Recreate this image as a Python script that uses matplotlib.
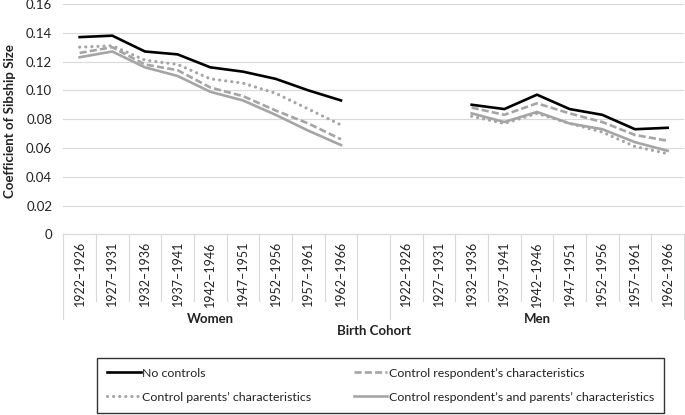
import matplotlib
matplotlib.use('Agg')
import matplotlib.pyplot as plt
from matplotlib.transforms import blended_transform_factory
from matplotlib.lines import Line2D
import numpy as np

plt.rcParams['font.family'] = ['Lato', 'DejaVu Sans']

cohorts = ['1922–1926', '1927–1931', '1932–1936', '1937–1941', '1942–1946',
           '1947–1951', '1952–1956', '1957–1961', '1962–1966']
groups = ['Women', 'Men']
series_names = ['No controls', 'Control parents’ characteristics',
                'Control respondent’s characteristics',
                'Control respondent’s and parents’ characteristics']

women_no_controls = [0.137, 0.138, 0.127, 0.125, 0.116, 0.113, 0.108, 0.100, 0.093]
women_parents = [0.130, 0.131, 0.121, 0.118, 0.108, 0.105, 0.098, 0.087, 0.076]
women_respondent = [0.126, 0.130, 0.118, 0.114, 0.102, 0.096, 0.086, 0.077, 0.066]
women_both = [0.123, 0.127, 0.116, 0.110, 0.099, 0.093, 0.083, 0.072, 0.062]

nan = np.nan
men_no_controls = [nan, nan, 0.090, 0.087, 0.097, 0.087, 0.083, 0.073, 0.074]
men_parents = [nan, nan, 0.082, 0.077, 0.084, 0.077, 0.071, 0.061, 0.056]
men_respondent = [nan, nan, 0.088, 0.083, 0.091, 0.084, 0.078, 0.069, 0.065]
men_both = [nan, nan, 0.084, 0.078, 0.085, 0.077, 0.073, 0.064, 0.058]

W, H = 685, 415
fig = plt.figure(figsize=(W / 100, H / 100), dpi=100)
L, R, T, B = 63.3, 684.0, 4.0, 234.3
ax = fig.add_axes([L / W, 1 - B / H, (R - L) / W, (B - T) / H])

n = len(cohorts)
x_w = np.arange(n)
x_m = np.arange(n) + n + 1
ncat = 2 * n + 1

gray = '#a5a5a5'
lw = 1.9
styles = [
    dict(color='black', lw=lw, ls='-'),
    dict(color=gray, lw=2.3, ls=(0, (0.01, 1.9)), dash_capstyle='round'),
    dict(color=gray, lw=lw, ls=(0, (2.7, 1.2))),
    dict(color=gray, lw=lw, ls='-'),
]
women = [women_no_controls, women_parents, women_respondent, women_both]
men = [men_no_controls, men_parents, men_respondent, men_both]
order_draw = [3, 2, 1, 0]
for i in order_draw:
    ax.plot(x_w, women[i], zorder=3 + (3 - i), **styles[i])
    ax.plot(x_m, men[i], zorder=3 + (3 - i), **styles[i])

ax.set_xlim(-0.5, ncat - 0.5)
ax.set_ylim(0, 0.16)
yt = np.arange(0, 0.161, 0.02)
ax.set_yticks(yt)
ax.set_yticklabels(['0' if v == 0 else f'{v:.2f}' for v in yt], fontsize=9.5, color='#222222')
ax.tick_params(axis='y', length=0, pad=8)
ax.set_xticks([])
ax.grid(axis='y', color='#d9d9d9', lw=0.8)
ax.set_axisbelow(True)
for s in ['left', 'right', 'top']:
    ax.spines[s].set_visible(False)
ax.spines['bottom'].set_color('#d9d9d9')
ax.spines['bottom'].set_linewidth(0.8)

# category separators and labels
tr = blended_transform_factory(ax.transData, fig.transFigure)
def fy(p):
    return 1 - p / H
long_b = {-0.5, n - 0.5, n + 0.5, ncat - 0.5}
for k in range(ncat + 1):
    xb = k - 0.5
    y2 = fy(319) if xb in long_b else fy(301)
    fig.add_artist(Line2D([xb, xb], [fy(B), y2], transform=tr, color='#d9d9d9', lw=0.8))

for xs in (x_w, x_m):
    for xi, lab in zip(xs, cohorts):
        fig.text(xi, fy(241), lab, transform=tr, rotation=90, ha='center', va='top',
                 fontsize=9, color='#222222')

fig.text(x_w.mean(), fy(319), groups[0], transform=tr, ha='center', va='center',
         fontsize=9.5, fontweight='bold', color='#222222')
fig.text(x_m.mean(), fy(319), groups[1], transform=tr, ha='center', va='center',
         fontsize=9.5, fontweight='bold', color='#222222')
fig.text((L + R) / 2 / W, fy(330.5), 'Birth Cohort', ha='center', va='center',
         fontsize=9.5, fontweight='bold', color='#222222')
fig.text(10 / W, fy(121), 'Coefficient of Sibship Size', rotation=90, ha='center',
         va='center', fontsize=9.5, fontweight='bold', color='#222222')

handles = [Line2D([], [], **styles[i]) for i in range(4)]
leg = fig.legend(handles, series_names, ncol=2, loc='upper left',
                 bbox_to_anchor=(97.3 / W, fy(357.8)), frameon=True, fancybox=False,
                 edgecolor='black', fontsize=8.9, handlelength=2.7, handletextpad=0.15,
                 columnspacing=3.4, labelspacing=1.05, borderpad=0.8, borderaxespad=0)
leg.get_frame().set_linewidth(1.0)
for t in leg.get_texts():
    t.set_color('#222222')

fig.savefig('out.png', dpi=100)
